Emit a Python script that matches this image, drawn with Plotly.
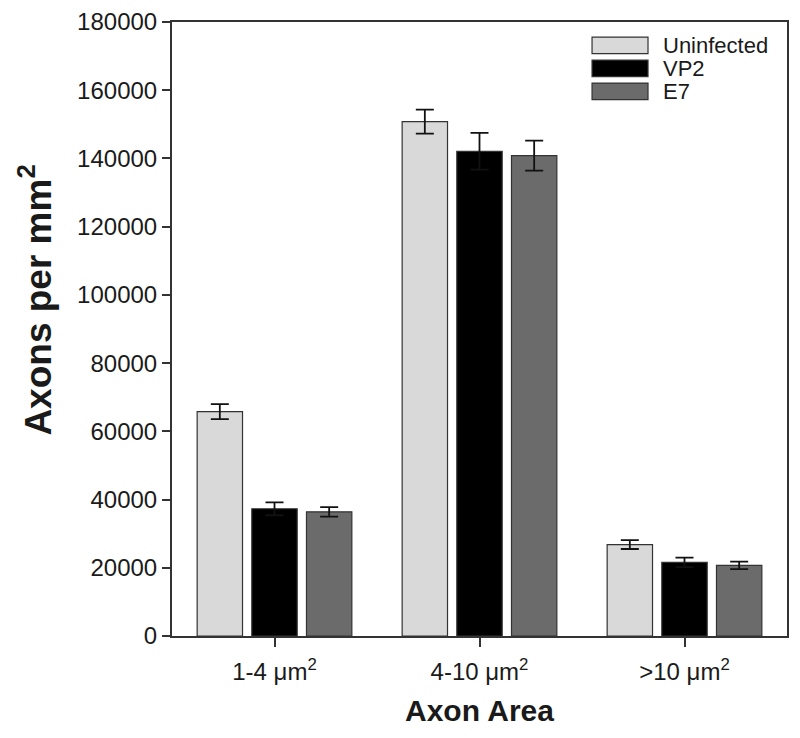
import plotly.graph_objects as go

categories = ["1-4 \u03bcm<sup>2</sup>", "4-10 \u03bcm<sup>2</sup>", ">10 \u03bcm<sup>2</sup>"]
series_names = ["Uninfected", "VP2", "E7"]
uninfected = [65800, 150800, 26800]
uninfected_err = [2200, 3500, 1300]
vp2 = [37300, 142100, 21600]
vp2_err = [1900, 5400, 1400]
e7 = [36400, 140800, 20700]
e7_err = [1400, 4400, 1100]
colors = ["#d9d9d9", "#000000", "#6b6b6b"]
y_ticks = [0, 20000, 40000, 60000, 80000, 100000, 120000, 140000, 160000, 180000]

fig = go.Figure()
for name, vals, errs, col in zip(series_names, [uninfected, vp2, e7],
                                 [uninfected_err, vp2_err, e7_err], colors):
    fig.add_trace(go.Bar(
        name=name, x=categories, y=vals, marker_color=col,
        marker_line=dict(color="#333333", width=1.2),
        error_y=dict(type="data", array=errs, visible=True,
                     color="#111111", thickness=1.8, width=9),
        showlegend=False,
    ))

# Legend drawn as wide swatches + text (paper coordinates)
leg_rows_y = [0.962, 0.9245, 0.887]
for name, col, yc in zip(series_names, colors, leg_rows_y):
    fig.add_shape(type="rect", xref="paper", yref="paper",
                  x0=0.683, x1=0.774, y0=yc - 0.0135, y1=yc + 0.0135,
                  fillcolor=col, line=dict(color="#333333", width=1.2))
    fig.add_annotation(xref="paper", yref="paper", x=0.795, y=yc,
                       xanchor="left", yanchor="middle", text=name,
                       showarrow=False, font=dict(size=22, color="#1a1a1a"))

# Axis titles
fig.add_annotation(xref="paper", yref="paper", x=0.5, y=-0.122,
                   xanchor="center", yanchor="middle", showarrow=False,
                   text="<b>Axon Area</b>", font=dict(size=30, color="#1a1a1a"))
fig.add_annotation(xref="paper", yref="paper", x=-0.222, y=0.547,
                   xanchor="center", yanchor="middle", showarrow=False, textangle=-90,
                   text="<b>Axons per mm<sup>2</sup></b>", font=dict(size=37, color="#1a1a1a"))

font_family = "Liberation Sans, Arial, sans-serif"
fig.update_layout(
    width=800, height=738,
    barmode="group", bargap=0.2, bargroupgap=0.17,
    plot_bgcolor="white", paper_bgcolor="white",
    margin=dict(l=164, r=21, t=14, b=110),
    font=dict(family=font_family, size=24, color="#1a1a1a"),
    showlegend=False,
)
fig.update_xaxes(
    automargin=False,
    showline=True, mirror=True, linecolor="#333333", linewidth=2,
    ticks="outside", ticklen=9, tickwidth=2, tickcolor="#333333",
    tickfont=dict(size=24), ticklabelstandoff=4,
)
fig.update_yaxes(
    automargin=False,
    range=[0, 180000], tickvals=y_ticks, ticktext=[str(v) for v in y_ticks],
    showline=True, mirror=True, linecolor="#333333", linewidth=2,
    ticks="outside", ticklen=8, tickwidth=2, tickcolor="#333333",
    showgrid=False, zeroline=False, tickfont=dict(size=24),
)

fig.write_html("out.html")
